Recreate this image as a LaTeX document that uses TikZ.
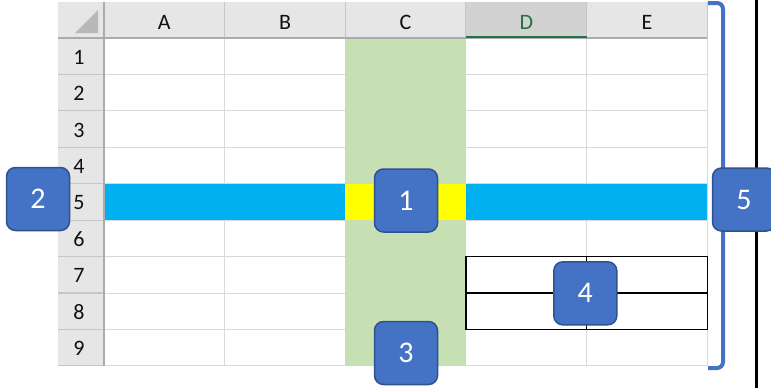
\documentclass[tikz,border=0pt]{standalone}
\usepackage{fontspec}
\setmainfont{Carlito}
\definecolor{hdrgray}{HTML}{E6E6E6}
\definecolor{hdrsel}{HTML}{D2D2D2}
\definecolor{hdrline}{HTML}{ABABAB}
\definecolor{hdrsep}{HTML}{C6C6C6}
\definecolor{gridgray}{HTML}{D9D9D9}
\definecolor{cgreen}{HTML}{C6E0B4}
\definecolor{ccyan}{HTML}{00B0F0}
\definecolor{cyell}{HTML}{FFFF00}
\definecolor{xlgreen}{HTML}{217346}
\definecolor{calfill}{HTML}{4472C4}
\definecolor{caledge}{HTML}{2F528F}
\definecolor{trigray}{HTML}{B8B8B8}
\definecolor{hdrtext}{HTML}{111111}
\tikzset{
  gridln/.style={draw=gridgray, line width=1},
  hdrtxt/.style={font=\fontsize{22}{24}\selectfont, text=hdrtext, inner sep=0},
  callout/.style={rounded corners=9, fill=calfill, draw=caledge, line width=1.5,
    minimum width=63, minimum height=63, text=white, inner sep=0,
    font=\fontsize{30}{32}\selectfont},
}
\begin{document}
\begin{tikzpicture}[x=1pt,y=-1pt]
\useasboundingbox (0,0) rectangle (771,388);
\fill[white] (0,0) rectangle (771,388);
% grid lines
\foreach \i in {1,...,5} \draw[gridln] ({104+\i*120.66},38) -- ({104+\i*120.66},366);
\foreach \j in {1,...,9} \draw[gridln] (104,{38+\j*36.43}) -- (707.3,{38+\j*36.43});
% fills
\fill[cgreen] (345.3,38) rectangle (466,366);
\fill[ccyan] (104,183.7) rectangle (707.3,220.1);
\fill[cyell] (345.3,183.7) rectangle (466,220.1);
% bordered range D7:E8
\draw[black, line width=1.2] (466,256.6) rectangle (707.3,329.4);
\draw[black, line width=1.2] (466,293) -- (707.3,293);
\draw[black, line width=1.2] (586.6,256.6) -- (586.6,329.4);
% headers
\fill[hdrgray] (58,2) rectangle (707.3,38);
\fill[hdrgray] (58,38) rectangle (104,366);
\fill[hdrsel] (466,2) rectangle (586.6,38);
\foreach \i in {1,...,5} \draw[hdrsep, line width=1] ({104+\i*120.66},2) -- ({104+\i*120.66},38);
\foreach \j in {1,...,9} \draw[hdrsep, line width=1.2] (58,{38+\j*36.43}) -- (104,{38+\j*36.43});
\draw[hdrline, line width=1.2] (58,38) -- (707.3,38);
\draw[hdrline, line width=1.2] (104,2) -- (104,366);
\draw[xlgreen, line width=2.2] (466,37) -- (586.6,37);
\fill[trigray] (75,33) -- (98,33) -- (98,10) -- cycle;
% column letters
\node[hdrtxt] (hA) at (164.3,22) {A};
\node[hdrtxt] (hB) at (285,22) {B};
\node[hdrtxt] (hC) at (405.6,22) {C};
\node[hdrtxt, text=xlgreen] (hD) at (526.3,22) {D};
\node[hdrtxt] (hE) at (647,22) {E};
% row numbers
\foreach \j in {1,...,9} \node[hdrtxt] (r\j) at (79,{38+(\j-0.5)*36.43+1}) {\j};
% black edge line
\draw[black, line width=3] (756,0) -- (756,388);
% bracket
\draw[calfill, line width=4, rounded corners=6] (708,3) -- (723,3) -- (723,368) -- (708,368);
% callouts
\node[callout] (c1) at (406,200.5) {1};
\node[callout] (c2) at (38,199) {2};
\node[callout] (c3) at (406,353) {3};
\node[callout] (c4) at (585.3,293.3) {4};
\node[callout] (c5) at (744,199.5) {5};
\end{tikzpicture}
\end{document}
